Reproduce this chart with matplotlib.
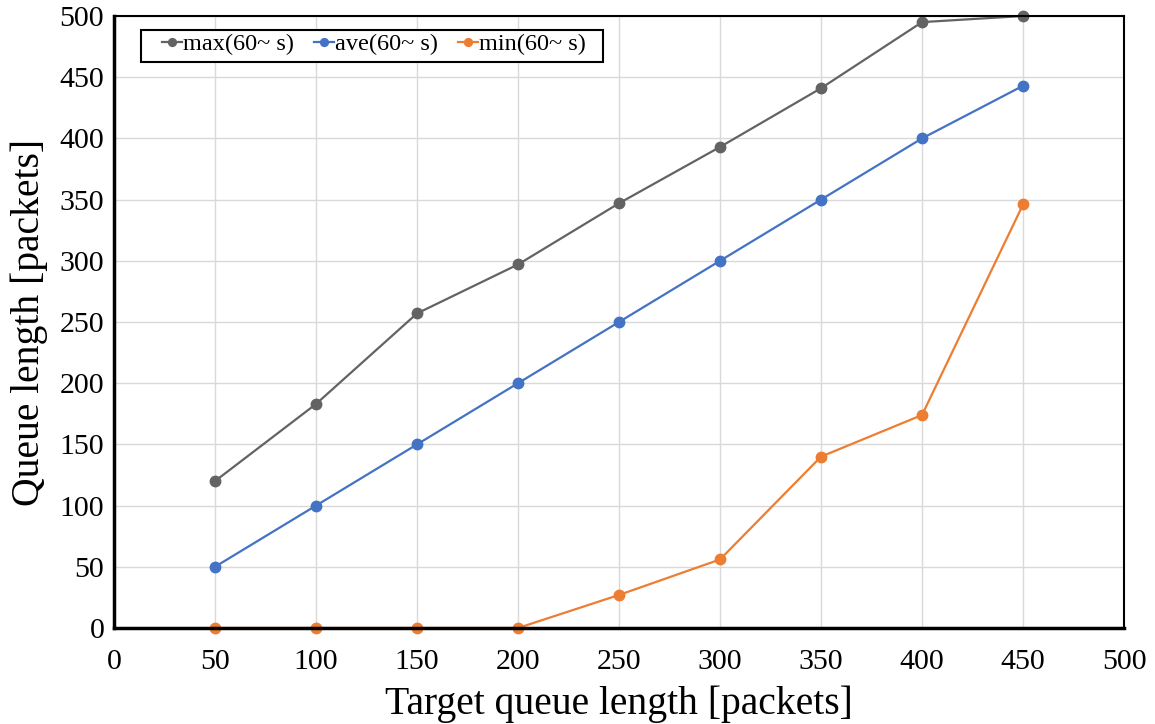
import matplotlib
matplotlib.use("Agg")
import matplotlib.pyplot as plt
from matplotlib.patches import Rectangle

targets = [50, 100, 150, 200, 250, 300, 350, 400, 450]
q_max = [120, 183, 257, 297, 347, 393, 441, 495, 500]
q_ave = [50, 100, 150, 200, 250, 300, 350, 400, 443]
q_min = [0, 0, 0, 0, 27, 56, 140, 174, 346]
ticks = [0, 50, 100, 150, 200, 250, 300, 350, 400, 450, 500]

plt.rcParams['font.family'] = ['Liberation Serif', 'DejaVu Serif']

fig = plt.figure(figsize=(11.55, 7.24), dpi=100)
ax = fig.add_axes([0.0987, 0.1326, 0.8745, 0.8453])

series = [
    ("max(60~ s)", q_max, "#636363"),
    ("ave(60~ s)", q_ave, "#4472C4"),
    ("min(60~ s)", q_min, "#ED7D31"),
]
for label, vals, color in series:
    ax.plot(targets, vals, color=color, lw=1.6, marker="o", ms=7.5,
            label=label, clip_on=False, zorder=3)

ax.set_xlim(0, 500)
ax.set_ylim(0, 500)
ax.set_xticks(ticks)
ax.set_yticks(ticks)
ax.tick_params(axis="both", length=0, labelsize=21.5)
ax.tick_params(axis="x", pad=15)
ax.tick_params(axis="y", pad=7)
ax.grid(True, color="#d9d9d9", lw=1)
ax.set_axisbelow(True)

for side in ["left", "bottom"]:
    ax.spines[side].set_linewidth(2.5)
for side in ["top", "right"]:
    ax.spines[side].set_linewidth(1.5)
for s in ax.spines.values():
    s.set_color("black")
    s.set_zorder(4)

ax.set_xlabel("Target queue length [packets]", fontsize=28.5, labelpad=8)
ax.set_ylabel("Queue length [packets]", fontsize=28.5, labelpad=8)

# legend entries without their own frame, boxed by a separate rectangle
leg = ax.legend(loc="upper left", bbox_to_anchor=(0.0475, 0.972), ncol=3,
                fontsize=17.5, frameon=False, handlelength=0.82,
                handletextpad=0.05, columnspacing=0.82, borderpad=0,
                borderaxespad=0, markerscale=0.75)
leg.set_zorder(6)
ax.add_patch(Rectangle((0.0267, 0.925), 0.4575, 0.052, transform=ax.transAxes,
                       facecolor="white", edgecolor="black", lw=1.5,
                       zorder=5, clip_on=False))

fig.savefig("out.png", dpi=100)
